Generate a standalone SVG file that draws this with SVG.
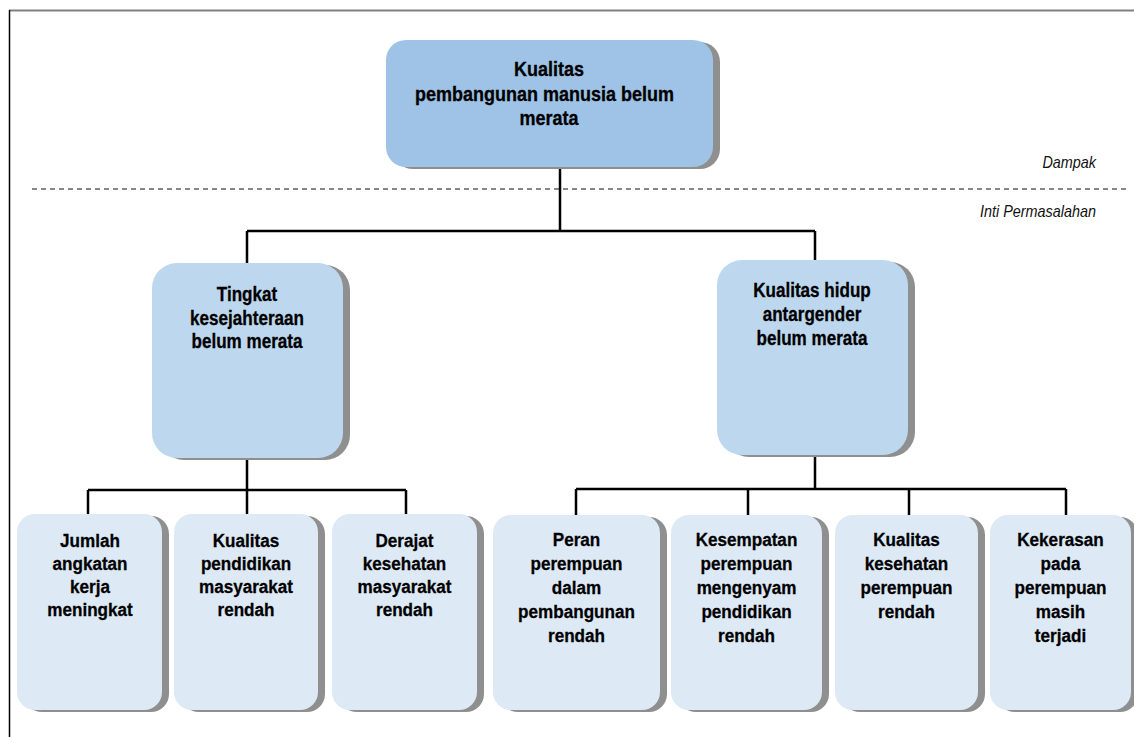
<svg xmlns="http://www.w3.org/2000/svg" width="1134" height="737" viewBox="0 0 1134 737">
  <style>
    .t { font-family: "Liberation Sans", Arial, sans-serif; font-weight: bold; fill: #000; stroke: #000; stroke-width: 0.3; text-anchor: middle; }
    .t20 { font-size: 20px; }
    .t19 { font-size: 19.4px; }
    .t18 { font-size: 19px; }
    .lbl { font-family: "Liberation Sans", Arial, sans-serif; font-style: italic; font-size: 16px; fill: #111; text-anchor: end; }
    .sh { fill: #8f8f8f; }
    .n0 { fill: #9fc3e6; }
    .n1 { fill: #bdd7ee; }
    .n2 { fill: #dde9f5; }
    .con { fill: none; stroke: #000; stroke-width: 2.5; }
  </style>
  <rect width="1134" height="737" fill="#fff"/>
  <!-- frame -->
  <line x1="9" y1="10.5" x2="1134" y2="10.5" stroke="#808080" stroke-width="2"/>
  <line x1="9.5" y1="10" x2="9.5" y2="737" stroke="#000" stroke-width="1.5"/>
  <!-- separator -->
  <line x1="32" y1="189" x2="1130" y2="189" stroke="#111" stroke-width="1" stroke-dasharray="5,4"/>
  <g transform="translate(1096 0) scale(0.9 1)">
    <text class="lbl" x="0" y="168">Dampak</text>
    <text class="lbl" x="0" y="217">Inti Permasalahan</text>
  </g>

  <g id="connectors">
    <path class="con" d="M560,167 V231 M247,231 H815 M247,231 V263 M815,231 V260"/>
    <path class="con" d="M247,458 V490 M88,490 H406 M88,490 V514 M247,490 V514 M406,490 V514"/>
    <path class="con" d="M815,455 V489 M576,489 H1066 M576,489 V515 M748,489 V515 M909,489 V515 M1066,489 V515"/>
  </g>

  <g id="n-top">
    <rect class="sh" x="393" y="42" width="327" height="127" rx="20"/>
    <rect class="n0" x="386" y="40" width="327" height="127" rx="20"/>
    <g transform="translate(549 0) scale(0.9 1)">
      <text class="t t20" x="0" y="76">Kualitas</text>
      <text class="t t20" x="-5" y="101">pembangunan manusia belum</text>
      <text class="t t20" x="0" y="125">merata</text>
    </g>
  </g>

  <g id="n-mid-left">
    <rect class="sh" x="159" y="265" width="191" height="195" rx="25"/>
    <rect class="n1" x="152" y="263" width="191" height="195" rx="25"/>
    <g transform="translate(247 0) scale(0.88 1)">
      <text class="t t19" x="0" y="301">Tingkat</text>
      <text class="t t19" x="0" y="325">kesejahteraan</text>
      <text class="t t19" x="0" y="348">belum merata</text>
    </g>
  </g>

  <g id="n-mid-right">
    <rect class="sh" x="724" y="262" width="191" height="195" rx="25"/>
    <rect class="n1" x="717" y="260" width="191" height="195" rx="25"/>
    <g transform="translate(812 0) scale(0.88 1)">
      <text class="t t19" x="0" y="297">Kualitas hidup</text>
      <text class="t t19" x="0" y="321">antargender</text>
      <text class="t t19" x="0" y="345">belum merata</text>
    </g>
  </g>

  <g id="n-b1">
    <rect class="sh" x="24" y="516" width="145" height="196" rx="18"/>
    <rect class="n2" x="17" y="514" width="145" height="196" rx="18"/>
    <g transform="translate(90 0) scale(0.9 1)">
      <text class="t t18" x="0" y="547">Jumlah</text>
      <text class="t t18" x="0" y="570">angkatan</text>
      <text class="t t18" x="0" y="593">kerja</text>
      <text class="t t18" x="0" y="616">meningkat</text>
    </g>
  </g>

  <g id="n-b2">
    <rect class="sh" x="181" y="516" width="144" height="196" rx="18"/>
    <rect class="n2" x="174" y="514" width="144" height="196" rx="18"/>
    <g transform="translate(246 0) scale(0.9 1)">
      <text class="t t18" x="0" y="547">Kualitas</text>
      <text class="t t18" x="0" y="570">pendidikan</text>
      <text class="t t18" x="0" y="593">masyarakat</text>
      <text class="t t18" x="0" y="616">rendah</text>
    </g>
  </g>

  <g id="n-b3">
    <rect class="sh" x="339" y="516" width="145" height="196" rx="18"/>
    <rect class="n2" x="332" y="514" width="145" height="196" rx="18"/>
    <g transform="translate(404.5 0) scale(0.9 1)">
      <text class="t t18" x="0" y="547">Derajat</text>
      <text class="t t18" x="0" y="570">kesehatan</text>
      <text class="t t18" x="0" y="593">masyarakat</text>
      <text class="t t18" x="0" y="616">rendah</text>
    </g>
  </g>

  <g id="n-b4">
    <rect class="sh" x="500" y="517" width="167" height="195" rx="18"/>
    <rect class="n2" x="493" y="515" width="167" height="195" rx="18"/>
    <g transform="translate(576.5 0) scale(0.9 1)">
      <text class="t t18" x="0" y="546">Peran</text>
      <text class="t t18" x="0" y="570">perempuan</text>
      <text class="t t18" x="0" y="594">dalam</text>
      <text class="t t18" x="0" y="618">pembangunan</text>
      <text class="t t18" x="0" y="642">rendah</text>
    </g>
  </g>

  <g id="n-b5">
    <rect class="sh" x="678" y="517" width="151" height="195" rx="18"/>
    <rect class="n2" x="671" y="515" width="151" height="195" rx="18"/>
    <g transform="translate(746.5 0) scale(0.9 1)">
      <text class="t t18" x="0" y="546">Kesempatan</text>
      <text class="t t18" x="0" y="570">perempuan</text>
      <text class="t t18" x="0" y="594">mengenyam</text>
      <text class="t t18" x="0" y="618">pendidikan</text>
      <text class="t t18" x="0" y="642">rendah</text>
    </g>
  </g>

  <g id="n-b6">
    <rect class="sh" x="842" y="517" width="143" height="195" rx="18"/>
    <rect class="n2" x="835" y="515" width="143" height="195" rx="18"/>
    <g transform="translate(906.5 0) scale(0.9 1)">
      <text class="t t18" x="0" y="546">Kualitas</text>
      <text class="t t18" x="0" y="570">kesehatan</text>
      <text class="t t18" x="0" y="594">perempuan</text>
      <text class="t t18" x="0" y="618">rendah</text>
    </g>
  </g>

  <g id="n-b7">
    <rect class="sh" x="997" y="517" width="141" height="195" rx="18"/>
    <rect class="n2" x="990" y="515" width="141" height="195" rx="18"/>
    <g transform="translate(1060.5 0) scale(0.9 1)">
      <text class="t t18" x="0" y="546">Kekerasan</text>
      <text class="t t18" x="0" y="570">pada</text>
      <text class="t t18" x="0" y="594">perempuan</text>
      <text class="t t18" x="0" y="618">masih</text>
      <text class="t t18" x="0" y="642">terjadi</text>
    </g>
  </g>
</svg>
